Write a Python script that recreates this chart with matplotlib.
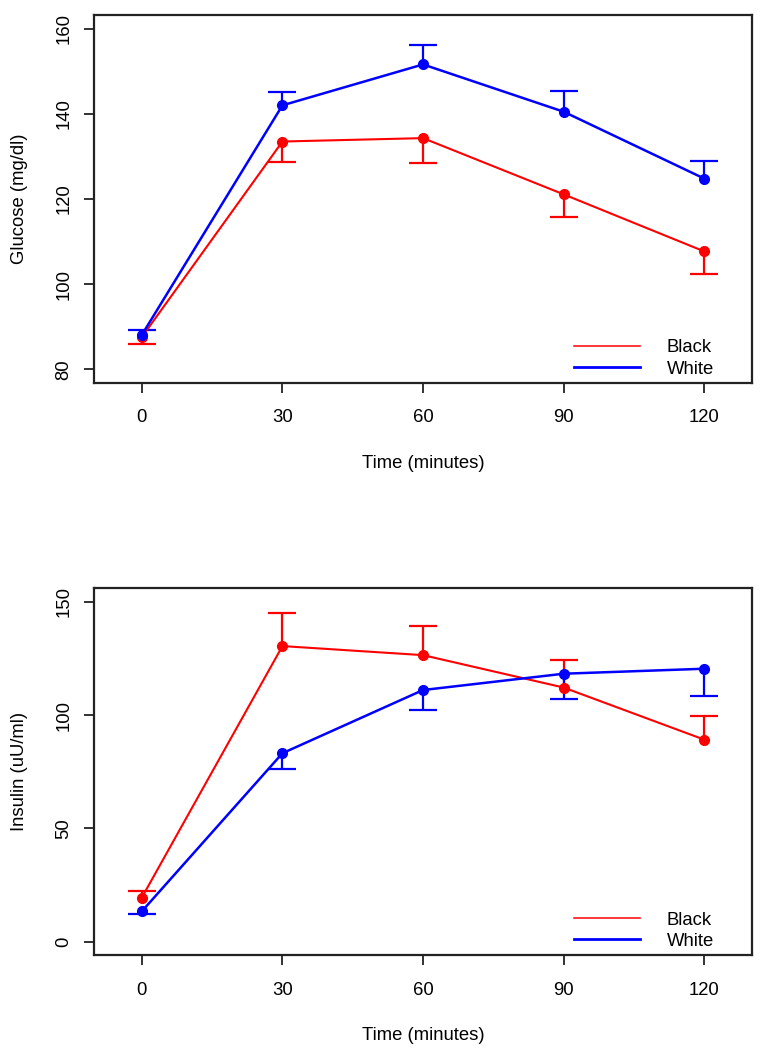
import matplotlib
matplotlib.use("Agg")
import matplotlib.pyplot as plt
from matplotlib.lines import Line2D
import numpy as np

plt.rcParams['font.family'] = ['Liberation Sans', 'DejaVu Sans']

time = [0, 30, 60, 90, 120]
xticks = [0, 30, 60, 90, 120]

glucose_black = [87.6, 133.5, 134.3, 121.1, 107.7]
glucose_black_se = [1.6, 4.8, 5.9, 5.4, 5.3]
glucose_white = [88.1, 142.0, 151.6, 140.5, 124.8]
glucose_white_se = [1.2, 3.1, 4.5, 4.9, 4.2]

insulin_black = [19.5, 130.5, 126.5, 112.2, 89.2]
insulin_black_se = [2.7, 14.6, 12.9, 12.2, 10.3]
insulin_white = [13.4, 83.2, 111.1, 118.3, 120.5]
insulin_white_se = [1.2, 6.8, 8.6, 11.2, 12.1]

glucose_yticks = [80, 100, 120, 140, 160]
insulin_yticks = [0, 50, 100, 150]

RED = '#FF0000'
BLUE = '#0000FF'
FS = 13.3

fig = plt.figure(figsize=(7.67, 10.5), dpi=100)

def draw_series(ax, y, se, color, side, lw):
    y = np.asarray(y)
    se = np.asarray(se)
    z = np.zeros_like(se)
    yerr = [se, z] if side == 'down' else [z, se]
    line, caps, bars = ax.errorbar(time, y, yerr=yerr, color=color, lw=lw,
                                   marker='o', ms=7, capsize=10,
                                   elinewidth=1.6, capthick=1.6, zorder=3)
    if side == 'down':
        caps[1].set_visible(False)
    else:
        caps[0].set_visible(False)

def style(ax, ylim, yticks, ylabel):
    ax.set_xlim(-10.2, 130.2)
    ax.set_ylim(*ylim)
    ax.set_xticks(xticks)
    ax.set_xticklabels([str(t) for t in xticks])
    ax.set_yticks(yticks)
    ax.set_yticklabels([str(t) for t in yticks], rotation=90, va='center')
    ax.tick_params(axis='both', direction='out', length=7, width=1.3,
                   labelsize=FS, color='#222222')
    ax.tick_params(axis='x', pad=12)
    ax.tick_params(axis='y', pad=8.5)
    for s in ax.spines.values():
        s.set_linewidth(1.6)
        s.set_color('#222222')
    ax.set_xlabel('Time (minutes)', fontsize=FS)
    ax.set_ylabel(ylabel, fontsize=FS)
    h = ax.get_position().height * 1050
    ax.xaxis.set_label_coords(0.5, -80.0 / h)
    ax.xaxis.label.set_va('center')
    ax.yaxis.set_label_coords(-75.0 / 658.0, 0.5)
    ax.yaxis.label.set_va('center')
    handles = [Line2D([], [], color=RED, lw=1.1),
               Line2D([], [], color=BLUE, lw=2.0)]
    ax.legend(handles, ['Black', 'White'], loc='lower left',
              bbox_to_anchor=(0.729, 0.015), frameon=False, fontsize=FS,
              handlelength=3.57, handletextpad=1.46, labelspacing=0.22,
              borderpad=0, borderaxespad=0)

ax1 = fig.add_axes([0.1226, 0.6352, 0.8579, 0.3505])
draw_series(ax1, glucose_black, glucose_black_se, RED, 'down', 1.5)
draw_series(ax1, glucose_white, glucose_white_se, BLUE, 'up', 1.8)
style(ax1, (76.8, 163.2), glucose_yticks, 'Glucose (mg/dl)')

ax2 = fig.add_axes([0.1226, 0.0902, 0.8579, 0.3495])
draw_series(ax2, insulin_black, insulin_black_se, RED, 'up', 1.5)
draw_series(ax2, insulin_white, insulin_white_se, BLUE, 'down', 1.8)
style(ax2, (-6, 156), insulin_yticks, 'Insulin (uU/ml)')

fig.savefig('out.png', dpi=100)
